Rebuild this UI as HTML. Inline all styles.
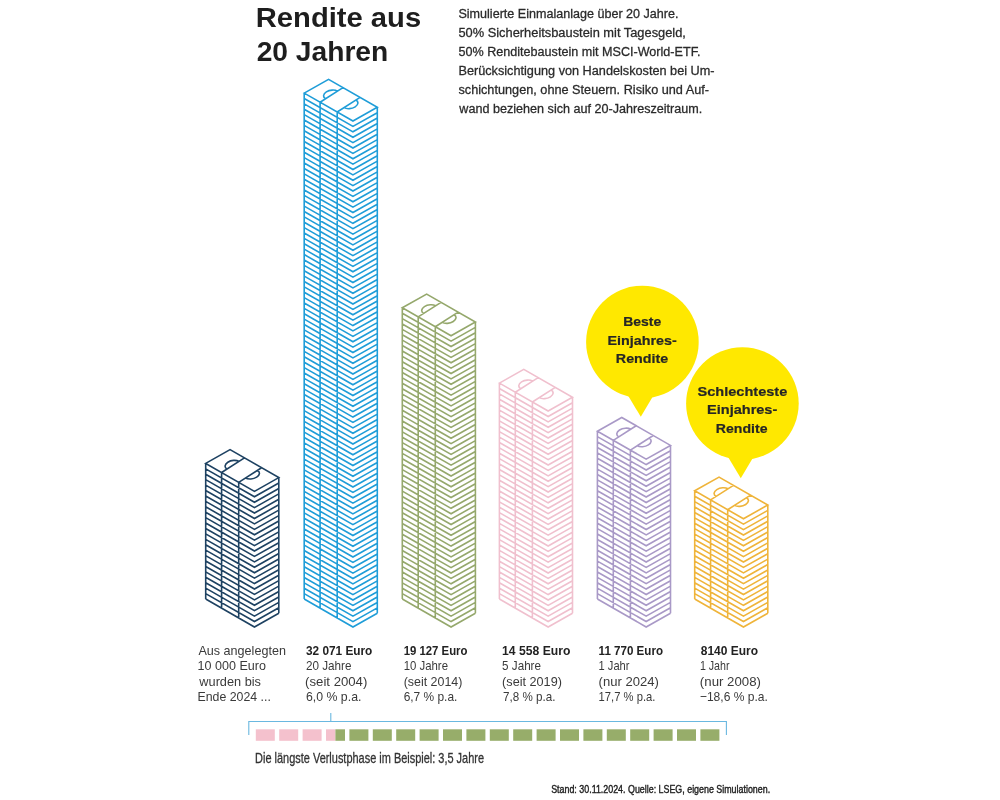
<!DOCTYPE html>
<html><head><meta charset="utf-8"><style>
html,body{margin:0;padding:0;background:#fff;width:1000px;height:800px;overflow:hidden}
svg{display:block;will-change:transform}
text{font-family:"Liberation Sans",sans-serif}
</style></head><body>
<svg width="1000" height="800" viewBox="0 0 1000 800">
<path d="M205.7 463.4L230.05 449.65L278.8 477.61L254.45 491.36ZM221.6 472.52L244.45 457.91M238.7 482.33L261.55 467.72M205.7 463.4L205.7 599M221.6 472.52L221.6 608.12M238.7 482.33L238.7 617.93M278.8 477.61L278.8 613.21M205.7 468.82L254.45 496.78L278.8 483.03M205.7 474.25L254.45 502.21L278.8 488.46M205.7 479.67L254.45 507.63L278.8 493.88M205.7 485.1L254.45 513.06L278.8 499.31M205.7 490.52L254.45 518.48L278.8 504.73M205.7 495.94L254.45 523.9L278.8 510.15M205.7 501.37L254.45 529.33L278.8 515.58M205.7 506.79L254.45 534.75L278.8 521M205.7 512.22L254.45 540.18L278.8 526.43M205.7 517.64L254.45 545.6L278.8 531.85M205.7 523.06L254.45 551.02L278.8 537.27M205.7 528.49L254.45 556.45L278.8 542.7M205.7 533.91L254.45 561.87L278.8 548.12M205.7 539.34L254.45 567.3L278.8 553.55M205.7 544.76L254.45 572.72L278.8 558.97M205.7 550.18L254.45 578.14L278.8 564.39M205.7 555.61L254.45 583.57L278.8 569.82M205.7 561.03L254.45 588.99L278.8 575.24M205.7 566.46L254.45 594.42L278.8 580.67M205.7 571.88L254.45 599.84L278.8 586.09M205.7 577.3L254.45 605.26L278.8 591.51M205.7 582.73L254.45 610.69L278.8 596.94M205.7 588.15L254.45 616.11L278.8 602.36M205.7 593.58L254.45 621.54L278.8 607.79M205.7 599L254.45 626.96L278.8 613.21M227.04 469.04C224.17 467.38 224.53 464.33 227.83 462.21C231.13 460.1 236.14 459.73 239.01 461.39M245.51 477.97C248.38 479.63 253.39 479.26 256.69 477.14C260 475.03 260.35 471.98 257.48 470.32" fill="none" stroke="#1e4262" stroke-width="1.6" stroke-linejoin="miter"/>
<path d="M304.2 93.1L328.55 79.35L377.3 107.31L352.95 121.06ZM320.1 102.22L342.95 87.61M337.2 112.03L360.05 97.42M304.2 93.1L304.2 599M320.1 102.22L320.1 608.12M337.2 112.03L337.2 617.93M377.3 107.31L377.3 613.21M304.2 98.48L352.95 126.44L377.3 112.69M304.2 103.86L352.95 131.82L377.3 118.07M304.2 109.25L352.95 137.21L377.3 123.46M304.2 114.63L352.95 142.59L377.3 128.84M304.2 120.01L352.95 147.97L377.3 134.22M304.2 125.39L352.95 153.35L377.3 139.6M304.2 130.77L352.95 158.73L377.3 144.98M304.2 136.16L352.95 164.12L377.3 150.37M304.2 141.54L352.95 169.5L377.3 155.75M304.2 146.92L352.95 174.88L377.3 161.13M304.2 152.3L352.95 180.26L377.3 166.51M304.2 157.68L352.95 185.64L377.3 171.89M304.2 163.06L352.95 191.02L377.3 177.27M304.2 168.45L352.95 196.41L377.3 182.66M304.2 173.83L352.95 201.79L377.3 188.04M304.2 179.21L352.95 207.17L377.3 193.42M304.2 184.59L352.95 212.55L377.3 198.8M304.2 189.97L352.95 217.93L377.3 204.18M304.2 195.36L352.95 223.32L377.3 209.57M304.2 200.74L352.95 228.7L377.3 214.95M304.2 206.12L352.95 234.08L377.3 220.33M304.2 211.5L352.95 239.46L377.3 225.71M304.2 216.88L352.95 244.84L377.3 231.09M304.2 222.27L352.95 250.23L377.3 236.48M304.2 227.65L352.95 255.61L377.3 241.86M304.2 233.03L352.95 260.99L377.3 247.24M304.2 238.41L352.95 266.37L377.3 252.62M304.2 243.79L352.95 271.75L377.3 258M304.2 249.18L352.95 277.14L377.3 263.39M304.2 254.56L352.95 282.52L377.3 268.77M304.2 259.94L352.95 287.9L377.3 274.15M304.2 265.32L352.95 293.28L377.3 279.53M304.2 270.7L352.95 298.66L377.3 284.91M304.2 276.09L352.95 304.05L377.3 290.3M304.2 281.47L352.95 309.43L377.3 295.68M304.2 286.85L352.95 314.81L377.3 301.06M304.2 292.23L352.95 320.19L377.3 306.44M304.2 297.61L352.95 325.57L377.3 311.82M304.2 302.99L352.95 330.95L377.3 317.2M304.2 308.38L352.95 336.34L377.3 322.59M304.2 313.76L352.95 341.72L377.3 327.97M304.2 319.14L352.95 347.1L377.3 333.35M304.2 324.52L352.95 352.48L377.3 338.73M304.2 329.9L352.95 357.86L377.3 344.11M304.2 335.29L352.95 363.25L377.3 349.5M304.2 340.67L352.95 368.63L377.3 354.88M304.2 346.05L352.95 374.01L377.3 360.26M304.2 351.43L352.95 379.39L377.3 365.64M304.2 356.81L352.95 384.77L377.3 371.02M304.2 362.2L352.95 390.16L377.3 376.41M304.2 367.58L352.95 395.54L377.3 381.79M304.2 372.96L352.95 400.92L377.3 387.17M304.2 378.34L352.95 406.3L377.3 392.55M304.2 383.72L352.95 411.68L377.3 397.93M304.2 389.11L352.95 417.07L377.3 403.32M304.2 394.49L352.95 422.45L377.3 408.7M304.2 399.87L352.95 427.83L377.3 414.08M304.2 405.25L352.95 433.21L377.3 419.46M304.2 410.63L352.95 438.59L377.3 424.84M304.2 416.01L352.95 443.97L377.3 430.22M304.2 421.4L352.95 449.36L377.3 435.61M304.2 426.78L352.95 454.74L377.3 440.99M304.2 432.16L352.95 460.12L377.3 446.37M304.2 437.54L352.95 465.5L377.3 451.75M304.2 442.92L352.95 470.88L377.3 457.13M304.2 448.31L352.95 476.27L377.3 462.52M304.2 453.69L352.95 481.65L377.3 467.9M304.2 459.07L352.95 487.03L377.3 473.28M304.2 464.45L352.95 492.41L377.3 478.66M304.2 469.83L352.95 497.79L377.3 484.04M304.2 475.22L352.95 503.18L377.3 489.43M304.2 480.6L352.95 508.56L377.3 494.81M304.2 485.98L352.95 513.94L377.3 500.19M304.2 491.36L352.95 519.32L377.3 505.57M304.2 496.74L352.95 524.7L377.3 510.95M304.2 502.13L352.95 530.09L377.3 516.34M304.2 507.51L352.95 535.47L377.3 521.72M304.2 512.89L352.95 540.85L377.3 527.1M304.2 518.27L352.95 546.23L377.3 532.48M304.2 523.65L352.95 551.61L377.3 537.86M304.2 529.04L352.95 557L377.3 543.25M304.2 534.42L352.95 562.38L377.3 548.63M304.2 539.8L352.95 567.76L377.3 554.01M304.2 545.18L352.95 573.14L377.3 559.39M304.2 550.56L352.95 578.52L377.3 564.77M304.2 555.94L352.95 583.9L377.3 570.15M304.2 561.33L352.95 589.29L377.3 575.54M304.2 566.71L352.95 594.67L377.3 580.92M304.2 572.09L352.95 600.05L377.3 586.3M304.2 577.47L352.95 605.43L377.3 591.68M304.2 582.85L352.95 610.81L377.3 597.06M304.2 588.24L352.95 616.2L377.3 602.45M304.2 593.62L352.95 621.58L377.3 607.83M304.2 599L352.95 626.96L377.3 613.21M325.54 98.74C322.67 97.08 323.03 94.03 326.33 91.91C329.63 89.8 334.64 89.43 337.51 91.09M344.01 107.67C346.88 109.33 351.89 108.96 355.19 106.84C358.5 104.73 358.85 101.68 355.98 100.02" fill="none" stroke="#1f9dd8" stroke-width="1.6" stroke-linejoin="miter"/>
<path d="M402.3 307.8L426.65 294.05L475.4 322.01L451.05 335.76ZM418.2 316.92L441.05 302.31M435.3 326.73L458.15 312.12M402.3 307.8L402.3 599M418.2 316.92L418.2 608.12M435.3 326.73L435.3 617.93M475.4 322.01L475.4 613.21M402.3 313.19L451.05 341.15L475.4 327.4M402.3 318.59L451.05 346.55L475.4 332.8M402.3 323.98L451.05 351.94L475.4 338.19M402.3 329.37L451.05 357.33L475.4 343.58M402.3 334.76L451.05 362.72L475.4 348.97M402.3 340.16L451.05 368.12L475.4 354.37M402.3 345.55L451.05 373.51L475.4 359.76M402.3 350.94L451.05 378.9L475.4 365.15M402.3 356.33L451.05 384.29L475.4 370.54M402.3 361.73L451.05 389.69L475.4 375.94M402.3 367.12L451.05 395.08L475.4 381.33M402.3 372.51L451.05 400.47L475.4 386.72M402.3 377.9L451.05 405.86L475.4 392.11M402.3 383.3L451.05 411.26L475.4 397.51M402.3 388.69L451.05 416.65L475.4 402.9M402.3 394.08L451.05 422.04L475.4 408.29M402.3 399.47L451.05 427.43L475.4 413.68M402.3 404.87L451.05 432.83L475.4 419.08M402.3 410.26L451.05 438.22L475.4 424.47M402.3 415.65L451.05 443.61L475.4 429.86M402.3 421.04L451.05 449L475.4 435.25M402.3 426.44L451.05 454.4L475.4 440.65M402.3 431.83L451.05 459.79L475.4 446.04M402.3 437.22L451.05 465.18L475.4 451.43M402.3 442.61L451.05 470.57L475.4 456.82M402.3 448.01L451.05 475.97L475.4 462.22M402.3 453.4L451.05 481.36L475.4 467.61M402.3 458.79L451.05 486.75L475.4 473M402.3 464.19L451.05 492.15L475.4 478.4M402.3 469.58L451.05 497.54L475.4 483.79M402.3 474.97L451.05 502.93L475.4 489.18M402.3 480.36L451.05 508.32L475.4 494.57M402.3 485.76L451.05 513.72L475.4 499.97M402.3 491.15L451.05 519.11L475.4 505.36M402.3 496.54L451.05 524.5L475.4 510.75M402.3 501.93L451.05 529.89L475.4 516.14M402.3 507.33L451.05 535.29L475.4 521.54M402.3 512.72L451.05 540.68L475.4 526.93M402.3 518.11L451.05 546.07L475.4 532.32M402.3 523.5L451.05 551.46L475.4 537.71M402.3 528.9L451.05 556.86L475.4 543.11M402.3 534.29L451.05 562.25L475.4 548.5M402.3 539.68L451.05 567.64L475.4 553.89M402.3 545.07L451.05 573.03L475.4 559.28M402.3 550.47L451.05 578.43L475.4 564.68M402.3 555.86L451.05 583.82L475.4 570.07M402.3 561.25L451.05 589.21L475.4 575.46M402.3 566.64L451.05 594.6L475.4 580.85M402.3 572.04L451.05 600L475.4 586.25M402.3 577.43L451.05 605.39L475.4 591.64M402.3 582.82L451.05 610.78L475.4 597.03M402.3 588.21L451.05 616.17L475.4 602.42M402.3 593.61L451.05 621.57L475.4 607.82M402.3 599L451.05 626.96L475.4 613.21M423.64 313.44C420.77 311.78 421.13 308.73 424.43 306.61C427.73 304.5 432.74 304.13 435.61 305.79M442.11 322.37C444.98 324.03 449.99 323.66 453.29 321.54C456.6 319.43 456.95 316.38 454.08 314.72" fill="none" stroke="#95a86c" stroke-width="1.6" stroke-linejoin="miter"/>
<path d="M499.4 383.1L523.75 369.35L572.5 397.31L548.15 411.06ZM515.3 392.22L538.15 377.61M532.4 402.03L555.25 387.42M499.4 383.1L499.4 599M515.3 392.22L515.3 608.12M532.4 402.03L532.4 617.93M572.5 397.31L572.5 613.21M499.4 388.5L548.15 416.46L572.5 402.71M499.4 393.9L548.15 421.86L572.5 408.11M499.4 399.29L548.15 427.25L572.5 413.5M499.4 404.69L548.15 432.65L572.5 418.9M499.4 410.09L548.15 438.05L572.5 424.3M499.4 415.49L548.15 443.44L572.5 429.69M499.4 420.88L548.15 448.84L572.5 435.09M499.4 426.28L548.15 454.24L572.5 440.49M499.4 431.68L548.15 459.64L572.5 445.89M499.4 437.08L548.15 465.03L572.5 451.28M499.4 442.47L548.15 470.43L572.5 456.68M499.4 447.87L548.15 475.83L572.5 462.08M499.4 453.27L548.15 481.23L572.5 467.48M499.4 458.67L548.15 486.62L572.5 472.88M499.4 464.06L548.15 492.02L572.5 478.27M499.4 469.46L548.15 497.42L572.5 483.67M499.4 474.86L548.15 502.82L572.5 489.07M499.4 480.25L548.15 508.21L572.5 494.46M499.4 485.65L548.15 513.61L572.5 499.86M499.4 491.05L548.15 519.01L572.5 505.26M499.4 496.45L548.15 524.41L572.5 510.66M499.4 501.85L548.15 529.8L572.5 516.05M499.4 507.24L548.15 535.2L572.5 521.45M499.4 512.64L548.15 540.6L572.5 526.85M499.4 518.04L548.15 546L572.5 532.25M499.4 523.43L548.15 551.39L572.5 537.64M499.4 528.83L548.15 556.79L572.5 543.04M499.4 534.23L548.15 562.19L572.5 548.44M499.4 539.63L548.15 567.59L572.5 553.84M499.4 545.02L548.15 572.99L572.5 559.24M499.4 550.42L548.15 578.38L572.5 564.63M499.4 555.82L548.15 583.78L572.5 570.03M499.4 561.22L548.15 589.18L572.5 575.43M499.4 566.62L548.15 594.57L572.5 580.82M499.4 572.01L548.15 599.97L572.5 586.22M499.4 577.41L548.15 605.37L572.5 591.62M499.4 582.81L548.15 610.77L572.5 597.02M499.4 588.2L548.15 616.16L572.5 602.41M499.4 593.6L548.15 621.56L572.5 607.81M499.4 599L548.15 626.96L572.5 613.21M520.74 388.74C517.87 387.08 518.23 384.03 521.53 381.91C524.83 379.8 529.84 379.43 532.71 381.09M539.21 397.67C542.08 399.33 547.09 398.96 550.39 396.84C553.7 394.73 554.05 391.68 551.18 390.02" fill="none" stroke="#f0c0ce" stroke-width="1.6" stroke-linejoin="miter"/>
<path d="M597.4 431.2L621.75 417.45L670.5 445.41L646.15 459.16ZM613.3 440.32L636.15 425.71M630.4 450.13L653.25 435.52M597.4 431.2L597.4 599M613.3 440.32L613.3 608.12M630.4 450.13L630.4 617.93M670.5 445.41L670.5 613.21M597.4 436.61L646.15 464.57L670.5 450.82M597.4 442.03L646.15 469.99L670.5 456.24M597.4 447.44L646.15 475.4L670.5 461.65M597.4 452.85L646.15 480.81L670.5 467.06M597.4 458.26L646.15 486.22L670.5 472.47M597.4 463.68L646.15 491.64L670.5 477.89M597.4 469.09L646.15 497.05L670.5 483.3M597.4 474.5L646.15 502.46L670.5 488.71M597.4 479.92L646.15 507.88L670.5 494.13M597.4 485.33L646.15 513.29L670.5 499.54M597.4 490.74L646.15 518.7L670.5 504.95M597.4 496.15L646.15 524.11L670.5 510.36M597.4 501.57L646.15 529.53L670.5 515.78M597.4 506.98L646.15 534.94L670.5 521.19M597.4 512.39L646.15 540.35L670.5 526.6M597.4 517.81L646.15 545.77L670.5 532.02M597.4 523.22L646.15 551.18L670.5 537.43M597.4 528.63L646.15 556.59L670.5 542.84M597.4 534.05L646.15 562.01L670.5 548.26M597.4 539.46L646.15 567.42L670.5 553.67M597.4 544.87L646.15 572.83L670.5 559.08M597.4 550.28L646.15 578.24L670.5 564.49M597.4 555.7L646.15 583.66L670.5 569.91M597.4 561.11L646.15 589.07L670.5 575.32M597.4 566.52L646.15 594.48L670.5 580.73M597.4 571.94L646.15 599.9L670.5 586.15M597.4 577.35L646.15 605.31L670.5 591.56M597.4 582.76L646.15 610.72L670.5 596.97M597.4 588.17L646.15 616.13L670.5 602.38M597.4 593.59L646.15 621.55L670.5 607.8M597.4 599L646.15 626.96L670.5 613.21M618.74 436.84C615.87 435.18 616.23 432.13 619.53 430.01C622.83 427.9 627.84 427.53 630.71 429.19M637.21 445.77C640.08 447.43 645.09 447.06 648.39 444.94C651.7 442.83 652.05 439.78 649.18 438.12" fill="none" stroke="#a999c7" stroke-width="1.6" stroke-linejoin="miter"/>
<path d="M694.7 490.8L719.05 477.05L767.8 505.01L743.45 518.76ZM710.6 499.92L733.45 485.31M727.7 509.73L750.55 495.12M694.7 490.8L694.7 599M710.6 499.92L710.6 608.12M727.7 509.73L727.7 617.93M767.8 505.01L767.8 613.21M694.7 496.21L743.45 524.17L767.8 510.42M694.7 501.62L743.45 529.58L767.8 515.83M694.7 507.03L743.45 534.99L767.8 521.24M694.7 512.44L743.45 540.4L767.8 526.65M694.7 517.85L743.45 545.81L767.8 532.06M694.7 523.26L743.45 551.22L767.8 537.47M694.7 528.67L743.45 556.63L767.8 542.88M694.7 534.08L743.45 562.04L767.8 548.29M694.7 539.49L743.45 567.45L767.8 553.7M694.7 544.9L743.45 572.86L767.8 559.11M694.7 550.31L743.45 578.27L767.8 564.52M694.7 555.72L743.45 583.68L767.8 569.93M694.7 561.13L743.45 589.09L767.8 575.34M694.7 566.54L743.45 594.5L767.8 580.75M694.7 571.95L743.45 599.91L767.8 586.16M694.7 577.36L743.45 605.32L767.8 591.57M694.7 582.77L743.45 610.73L767.8 596.98M694.7 588.18L743.45 616.14L767.8 602.39M694.7 593.59L743.45 621.55L767.8 607.8M694.7 599L743.45 626.96L767.8 613.21M716.04 496.44C713.17 494.78 713.53 491.73 716.83 489.61C720.13 487.5 725.14 487.13 728.01 488.79M734.51 505.37C737.38 507.03 742.39 506.66 745.69 504.54C749 502.43 749.35 499.38 746.48 497.72" fill="none" stroke="#efb43a" stroke-width="1.6" stroke-linejoin="miter"/>
<circle cx="642.4" cy="342" r="56.3" fill="#ffe800"/><path d="M624 388.8L640.8 416.8L657.4 388.8Z" fill="#ffe800"/>
<circle cx="742.4" cy="403.5" r="56.3" fill="#ffe800"/><path d="M724 450.2L740.8 478.2L757.4 450.2Z" fill="#ffe800"/>
<path d="M248.8 735V721.5H726.4V735M330.8 713V721.5" fill="none" stroke="#6ab8e0" stroke-width="1.1"/>
<rect x="255.8" y="729.3" width="19" height="11.5" fill="#f4c1cd"/>
<rect x="279.2" y="729.3" width="19" height="11.5" fill="#f4c1cd"/>
<rect x="302.6" y="729.3" width="19" height="11.5" fill="#f4c1cd"/>
<rect x="326" y="729.3" width="9.4" height="11.5" fill="#f4c1cd"/>
<rect x="335.4" y="729.3" width="9.6" height="11.5" fill="#97ad6a"/>
<rect x="349.4" y="729.3" width="19" height="11.5" fill="#97ad6a"/>
<rect x="372.8" y="729.3" width="19" height="11.5" fill="#97ad6a"/>
<rect x="396.2" y="729.3" width="19" height="11.5" fill="#97ad6a"/>
<rect x="419.6" y="729.3" width="19" height="11.5" fill="#97ad6a"/>
<rect x="443" y="729.3" width="19" height="11.5" fill="#97ad6a"/>
<rect x="466.4" y="729.3" width="19" height="11.5" fill="#97ad6a"/>
<rect x="489.8" y="729.3" width="19" height="11.5" fill="#97ad6a"/>
<rect x="513.2" y="729.3" width="19" height="11.5" fill="#97ad6a"/>
<rect x="536.6" y="729.3" width="19" height="11.5" fill="#97ad6a"/>
<rect x="560" y="729.3" width="19" height="11.5" fill="#97ad6a"/>
<rect x="583.4" y="729.3" width="19" height="11.5" fill="#97ad6a"/>
<rect x="606.8" y="729.3" width="19" height="11.5" fill="#97ad6a"/>
<rect x="630.2" y="729.3" width="19" height="11.5" fill="#97ad6a"/>
<rect x="653.6" y="729.3" width="19" height="11.5" fill="#97ad6a"/>
<rect x="677" y="729.3" width="19" height="11.5" fill="#97ad6a"/>
<rect x="700.4" y="729.3" width="19" height="11.5" fill="#97ad6a"/>
<text x="255.76" y="26.7" textLength="165.42" lengthAdjust="spacingAndGlyphs" font-family="Liberation Sans" font-size="28.2" font-weight="bold" fill="#1e1e1e">Rendite aus</text>
<text x="256.66" y="61.2" textLength="131.58" lengthAdjust="spacingAndGlyphs" font-family="Liberation Sans" font-size="28.2" font-weight="bold" fill="#1e1e1e">20 Jahren</text>
<text x="458.44" y="18.3" textLength="220.02" lengthAdjust="spacingAndGlyphs" font-family="Liberation Sans" font-size="13.7" font-weight="normal" fill="#2a2a2a" stroke="#2a2a2a" stroke-width="0.3">Simulierte Einmalanlage über 20 Jahre.</text>
<text x="458.44" y="37.15" textLength="227.46" lengthAdjust="spacingAndGlyphs" font-family="Liberation Sans" font-size="13.7" font-weight="normal" fill="#2a2a2a" stroke="#2a2a2a" stroke-width="0.3">50% Sicherheitsbaustein mit Tagesgeld,</text>
<text x="458.44" y="56" textLength="242.02" lengthAdjust="spacingAndGlyphs" font-family="Liberation Sans" font-size="13.7" font-weight="normal" fill="#2a2a2a" stroke="#2a2a2a" stroke-width="0.3">50% Renditebaustein mit MSCI-World-ETF.</text>
<text x="458.44" y="74.85" textLength="256.12" lengthAdjust="spacingAndGlyphs" font-family="Liberation Sans" font-size="13.7" font-weight="normal" fill="#2a2a2a" stroke="#2a2a2a" stroke-width="0.3">Berücksichtigung von Handelskosten bei Um-</text>
<text x="458.44" y="93.7" textLength="250.62" lengthAdjust="spacingAndGlyphs" font-family="Liberation Sans" font-size="13.7" font-weight="normal" fill="#2a2a2a" stroke="#2a2a2a" stroke-width="0.3">schichtungen, ohne Steuern. Risiko und Auf-</text>
<text x="459.34" y="112.55" textLength="243" lengthAdjust="spacingAndGlyphs" font-family="Liberation Sans" font-size="13.7" font-weight="normal" fill="#2a2a2a" stroke="#2a2a2a" stroke-width="0.3">wand beziehen sich auf 20-Jahreszeitraum.</text>
<text x="623.22" y="325.85" textLength="38" lengthAdjust="spacingAndGlyphs" font-family="Liberation Sans" font-size="13.2" font-weight="bold" fill="#262626" stroke="#262626" stroke-width="0.2">Beste</text>
<text x="607.47" y="344.75" textLength="69.31" lengthAdjust="spacingAndGlyphs" font-family="Liberation Sans" font-size="13.2" font-weight="bold" fill="#262626" stroke="#262626" stroke-width="0.2">Einjahres-</text>
<text x="615.85" y="363.1" textLength="52.37" lengthAdjust="spacingAndGlyphs" font-family="Liberation Sans" font-size="13.2" font-weight="bold" fill="#262626" stroke="#262626" stroke-width="0.2">Rendite</text>
<text x="697.5" y="396.4" textLength="89.78" lengthAdjust="spacingAndGlyphs" font-family="Liberation Sans" font-size="13.2" font-weight="bold" fill="#262626" stroke="#262626" stroke-width="0.2">Schlechteste</text>
<text x="707.1" y="414.4" textLength="70.18" lengthAdjust="spacingAndGlyphs" font-family="Liberation Sans" font-size="13.2" font-weight="bold" fill="#262626" stroke="#262626" stroke-width="0.2">Einjahres-</text>
<text x="715.85" y="432.75" textLength="51.65" lengthAdjust="spacingAndGlyphs" font-family="Liberation Sans" font-size="13.2" font-weight="bold" fill="#262626" stroke="#262626" stroke-width="0.2">Rendite</text>
<text x="198.44" y="654.8" textLength="87.46" lengthAdjust="spacingAndGlyphs" font-family="Liberation Sans" font-size="13" font-weight="normal" fill="#3a3a3a">Aus angelegten</text>
<text x="197.54" y="670.2" textLength="68.36" lengthAdjust="spacingAndGlyphs" font-family="Liberation Sans" font-size="13" font-weight="normal" fill="#3a3a3a">10 000 Euro</text>
<text x="199.34" y="686" textLength="61.66" lengthAdjust="spacingAndGlyphs" font-family="Liberation Sans" font-size="13" font-weight="normal" fill="#3a3a3a">wurden bis</text>
<text x="197.54" y="701.4" textLength="73.36" lengthAdjust="spacingAndGlyphs" font-family="Liberation Sans" font-size="13" font-weight="normal" fill="#3a3a3a">Ende 2024 ...</text>
<text x="306" y="654.8" textLength="66.34" lengthAdjust="spacingAndGlyphs" font-family="Liberation Sans" font-size="13" font-weight="bold" fill="#222">32 071 Euro</text>
<text x="306" y="670.2" textLength="45.5" lengthAdjust="spacingAndGlyphs" font-family="Liberation Sans" font-size="13" font-weight="normal" fill="#3a3a3a">20 Jahre</text>
<text x="305.1" y="686" textLength="62.24" lengthAdjust="spacingAndGlyphs" font-family="Liberation Sans" font-size="13" font-weight="normal" fill="#3a3a3a">(seit 2004)</text>
<text x="306" y="701.4" textLength="55.4" lengthAdjust="spacingAndGlyphs" font-family="Liberation Sans" font-size="13" font-weight="normal" fill="#3a3a3a">6,0 % p.a.</text>
<text x="403.66" y="654.8" textLength="63.84" lengthAdjust="spacingAndGlyphs" font-family="Liberation Sans" font-size="13" font-weight="bold" fill="#222">19 127 Euro</text>
<text x="403.66" y="670.2" textLength="44.34" lengthAdjust="spacingAndGlyphs" font-family="Liberation Sans" font-size="13" font-weight="normal" fill="#3a3a3a">10 Jahre</text>
<text x="403.66" y="686" textLength="58.74" lengthAdjust="spacingAndGlyphs" font-family="Liberation Sans" font-size="13" font-weight="normal" fill="#3a3a3a">(seit 2014)</text>
<text x="403.66" y="701.4" textLength="53.74" lengthAdjust="spacingAndGlyphs" font-family="Liberation Sans" font-size="13" font-weight="normal" fill="#3a3a3a">6,7 % p.a.</text>
<text x="502.1" y="654.8" textLength="68.24" lengthAdjust="spacingAndGlyphs" font-family="Liberation Sans" font-size="13" font-weight="bold" fill="#222">14 558 Euro</text>
<text x="502.1" y="670.2" textLength="38.9" lengthAdjust="spacingAndGlyphs" font-family="Liberation Sans" font-size="13" font-weight="normal" fill="#3a3a3a">5 Jahre</text>
<text x="502.1" y="686" textLength="59.8" lengthAdjust="spacingAndGlyphs" font-family="Liberation Sans" font-size="13" font-weight="normal" fill="#3a3a3a">(seit 2019)</text>
<text x="503" y="701.4" textLength="52.4" lengthAdjust="spacingAndGlyphs" font-family="Liberation Sans" font-size="13" font-weight="normal" fill="#3a3a3a">7,8 % p.a.</text>
<text x="598.6" y="654.8" textLength="64.4" lengthAdjust="spacingAndGlyphs" font-family="Liberation Sans" font-size="13" font-weight="bold" fill="#222">11 770 Euro</text>
<text x="598.6" y="670.2" textLength="30.9" lengthAdjust="spacingAndGlyphs" font-family="Liberation Sans" font-size="13" font-weight="normal" fill="#3a3a3a">1 Jahr</text>
<text x="598.6" y="686" textLength="60.3" lengthAdjust="spacingAndGlyphs" font-family="Liberation Sans" font-size="13" font-weight="normal" fill="#3a3a3a">(nur 2024)</text>
<text x="598.6" y="701.4" textLength="56.8" lengthAdjust="spacingAndGlyphs" font-family="Liberation Sans" font-size="13" font-weight="normal" fill="#3a3a3a">17,7 % p.a.</text>
<text x="700.78" y="654.8" textLength="57.22" lengthAdjust="spacingAndGlyphs" font-family="Liberation Sans" font-size="13" font-weight="bold" fill="#222">8140 Euro</text>
<text x="699.88" y="670.2" textLength="29.62" lengthAdjust="spacingAndGlyphs" font-family="Liberation Sans" font-size="13" font-weight="normal" fill="#3a3a3a">1 Jahr</text>
<text x="699.88" y="686" textLength="61.02" lengthAdjust="spacingAndGlyphs" font-family="Liberation Sans" font-size="13" font-weight="normal" fill="#3a3a3a">(nur 2008)</text>
<text x="699.88" y="701.4" textLength="68.02" lengthAdjust="spacingAndGlyphs" font-family="Liberation Sans" font-size="13" font-weight="normal" fill="#3a3a3a">−18,6 % p.a.</text>
<text x="255.1" y="762.6" textLength="228.9" lengthAdjust="spacingAndGlyphs" font-family="Liberation Sans" font-size="13.9" font-weight="normal" fill="#333" stroke="#333" stroke-width="0.3">Die längste Verlustphase im Beispiel: 3,5 Jahre</text>
<text x="551.16" y="793" textLength="218.96" lengthAdjust="spacingAndGlyphs" font-family="Liberation Sans" font-size="10.8" font-weight="normal" fill="#222" stroke="#222" stroke-width="0.4">Stand: 30.11.2024. Quelle: LSEG, eigene Simulationen.</text>
</svg>
</body></html>
